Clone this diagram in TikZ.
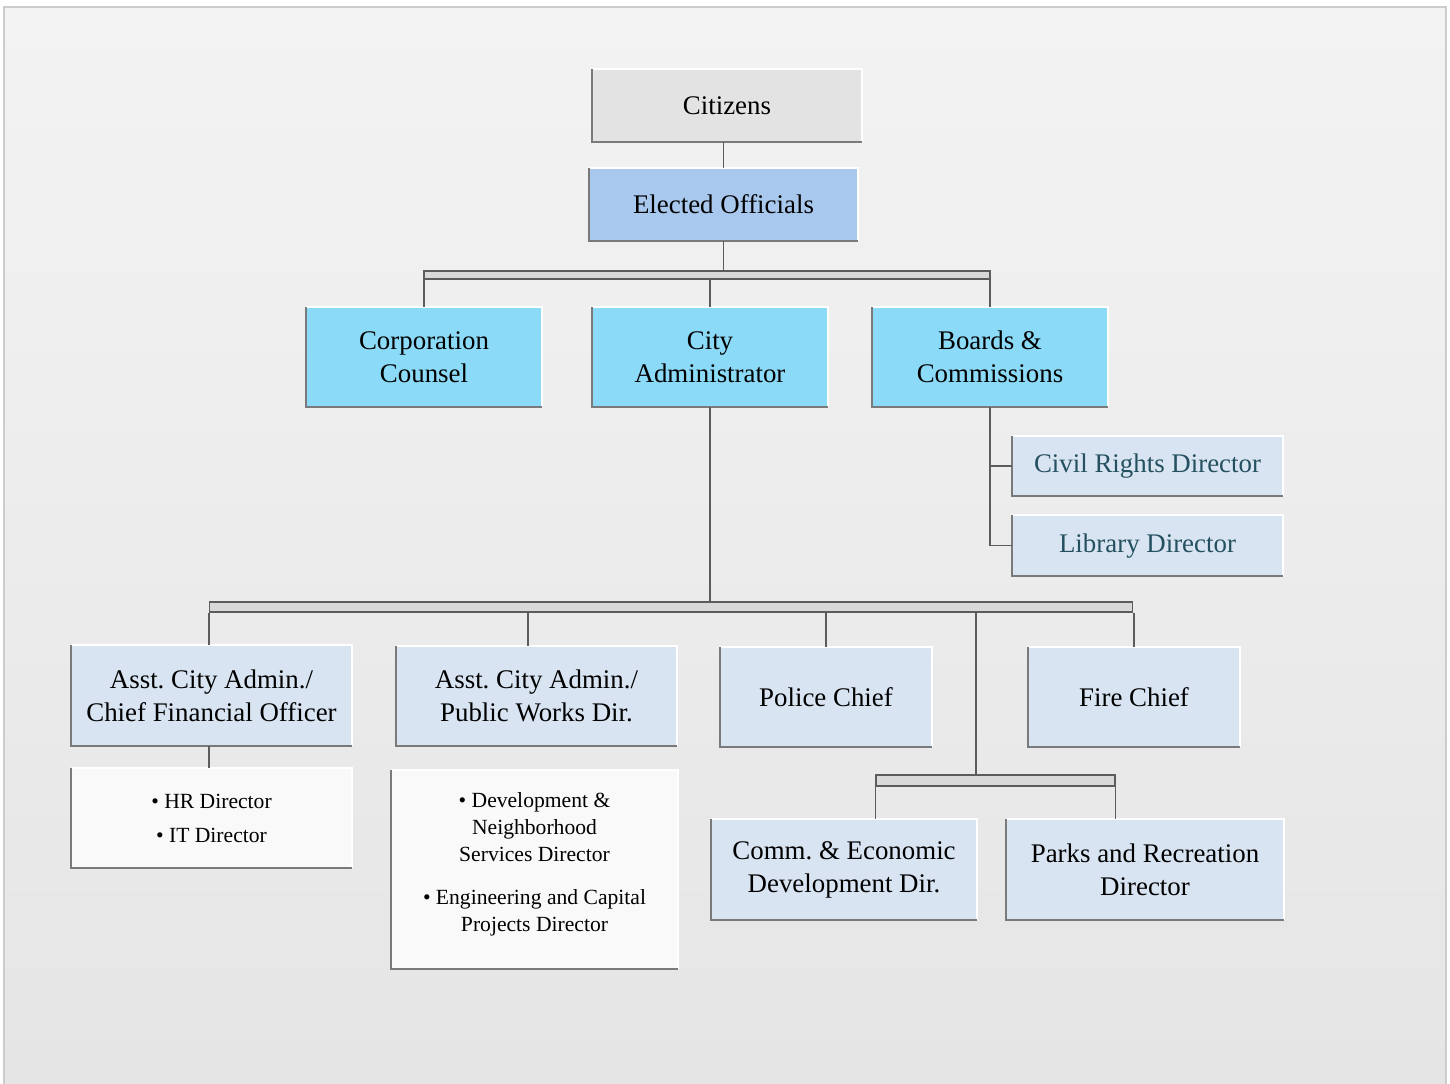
\documentclass[tikz,border=0pt]{standalone}
\usepackage{fontspec}
\setmainfont{Liberation Serif}
\usetikzlibrary{positioning}
\frenchspacing

\definecolor{citgray}{HTML}{E3E3E3}
\definecolor{electblue}{HTML}{A9C8EE}
\definecolor{skyblue}{HTML}{8ADAF8}
\definecolor{paleblue}{HTML}{D8E4F2}
\definecolor{notewhite}{HTML}{F9F9F9}
\definecolor{barfill}{HTML}{D9D9D9}
\definecolor{linegray}{HTML}{5C5C5C}
\definecolor{edgegray}{HTML}{7A7A7A}
\definecolor{tealtext}{HTML}{24505F}
\definecolor{bgtop}{HTML}{F3F3F3}
\definecolor{bgbot}{HTML}{E5E5E5}
\definecolor{bgedge}{HTML}{CCCCCC}

\tikzset{
  unit/.style={rectangle, inner sep=0pt, align=center,
    font=\fontsize{15.3}{18.8}\selectfont},
  headbox/.style={unit, minimum width=5.4cm, minimum height=1.46cm},
  deptbox/.style={unit, fill=skyblue, minimum width=4.72cm, minimum height=2cm},
  staffbox/.style={unit, fill=paleblue, minimum height=2cm},
  sidebox/.style={unit, fill=paleblue, text=tealtext, minimum width=5.42cm, minimum height=1.2cm},
  notebox/.style={unit, fill=notewhite, font=\fontsize{12.3}{15.4}\selectfont},
  bar/.style={rectangle, inner sep=0pt, fill=barfill, draw=linegray, line width=0.7pt},
  link/.style={draw=linegray, line width=0.9pt}
}

\begin{document}
\begin{tikzpicture}[x=0.02cm,y=-0.02cm]
  \useasboundingbox (0,0) rectangle (1450,1084);
  \shade[top color=bgtop, bottom color=bgbot] (4,7) rectangle (1446,1084);
  \draw[bgedge, line width=1.2pt] (4,1084) -- (4,7) -- (1446,7) -- (1446,1084);

  % top of the chart
  \node[headbox, fill=citgray] (citizens) at (727,105.5) {Citizens};
  \node[headbox, fill=electblue, minimum width=5.38cm] (elected) at (723.5,204.5) {Elected Officials};

  \node[deptbox] (counsel) at (424,357) {Corporation\\Counsel};
  \node[deptbox] (cityadmin) at (710,357) {City\\Administrator};
  \node[deptbox] (boards) at (990,357) {Boards \&\\Commissions};

  \node[sidebox] (civil) at (1147.5,466) {Civil Rights Director};
  \node[sidebox, below=0.38cm of civil] (library) {Library Director};

  % staff under the city administrator
  \node[staffbox, minimum width=5.62cm] (finance) at (211.5,695.5) {Asst. City Admin./\\Chief Financial Officer};
  \node[staffbox, minimum width=5.62cm] (works) at (536.5,696) {Asst. City Admin./\\Public Works Dir.};
  \node[staffbox, minimum width=4.24cm] (police) at (826,697) {Police Chief};
  \node[staffbox, minimum width=4.24cm] (fire) at (1134,697) {Fire Chief};
  \node[staffbox, minimum width=5.32cm, minimum height=2.02cm] (econ) at (844,869.5) {Comm. \& Economic\\Development Dir.};
  \node[staffbox, minimum width=5.56cm, minimum height=2.02cm] (parks) at (1145,869.5) {Parks and Recreation\\Director};

  \node[notebox, minimum width=5.62cm, minimum height=2cm] (finlist) at (211.5,818)
    {\textbullet\ HR Director\\[4pt] \textbullet\ IT Director};
  \node[notebox, minimum width=5.74cm, minimum height=3.98cm] (worklist) at (534.5,869.5) {};
  \node[notebox, anchor=north] (worktext) at (534.5,792)
    {\textbullet\ Development \&\\Neighborhood\\Services Director\\[9pt]
     \textbullet\ Engineering and Capital\\Projects Director};

  % bevelled edges
  \foreach \n in {citizens,elected,counsel,cityadmin,boards,civil,library,
                  finance,works,police,fire,econ,parks,finlist,worklist} {
    \draw[white, line width=1.3pt] (\n.north west) -- (\n.north east) -- (\n.south east);
    \draw[edgegray, line width=1.3pt] (\n.north west) -- (\n.south west) -- (\n.south east);
  }

  % bars
  \node[bar, minimum width=11.32cm, minimum height=0.16cm] (bar1) at (707,275) {};
  \node[bar, minimum width=18.46cm, minimum height=0.2cm] (bar2) at (671,607) {};
  \node[bar, minimum width=4.78cm, minimum height=0.22cm] (bar3) at (995.5,780.5) {};
  \coordinate (split) at (976,0);

  % connectors
  \draw[link] (citizens.south -| elected.north) -- (elected.north);
  \draw[link] (elected.south) -- (elected.south |- bar1.north);
  \foreach \n in {counsel,cityadmin,boards}
    \draw[link] (bar1.south -| \n.north) -- (\n.north);
  \draw[link] (boards.south) |- (civil.west);
  \draw[link] (boards.south) |- (library.west);
  \draw[link] (cityadmin.south) -- (cityadmin.south |- bar2.north);
  \draw[link] (bar2.south west) -- (bar2.south west |- finance.north);
  \draw[link] ([xshift=-0.17cm]bar2.south -| works.north) -- ([xshift=-0.17cm]works.north);
  \foreach \n in {police,fire}
    \draw[link] (bar2.south -| \n.north) -- (\n.north);
  \draw[link] (bar2.south -| split) -- (bar3.north -| split);
  \draw[link] (bar3.south west) -- (bar3.south west |- econ.north);
  \draw[link] (bar3.south east) -- (bar3.south east |- parks.north);
  \draw[link] (finance.south -| bar2.west) -- (finlist.north -| bar2.west);
\end{tikzpicture}
\end{document}
